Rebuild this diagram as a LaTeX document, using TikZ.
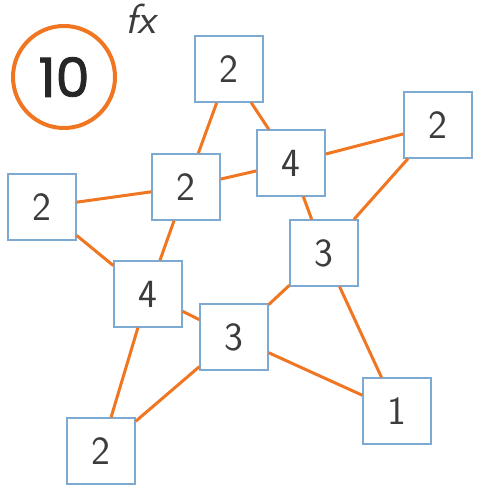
\documentclass[tikz,border=0pt]{standalone}
\usepackage{fontspec}
\usepackage{xcolor}
\newfontfamily\circfont[FakeBold=1.6]{Poppins}
\usetikzlibrary{positioning}

\definecolor{starorange}{RGB}{240,118,34}
\definecolor{boxblue}{RGB}{125,170,210}
\definecolor{penink}{RGB}{60,60,60}

\tikzset{
    numbox/.style={
        draw=boxblue,
        line width=1.3pt,
        fill=white,
        rectangle,
        minimum width=68pt,
        minimum height=66pt,
        inner sep=0pt,
        text=penink,
        font=\sffamily\fontsize{40}{40}\selectfont
    },
    starline/.style={draw=starorange, line width=3pt}
}

\begin{document}
\begin{tikzpicture}[x=1pt, y=-1pt]

\useasboundingbox (0,0) rectangle (478,486);

% Number circle and note
\node[
    circle,
    draw=starorange,
    line width=4pt,
    minimum size=102pt,
    inner sep=0pt,
    text=black!85,
    font=\circfont\fontsize{54}{54}\selectfont
] (task) at (64,77) {10};

\node[
    text=penink,
    font=\sffamily\itshape\fontsize{42}{42}\selectfont
] (note) at (141,19) {fx};

% Outer points
\node[numbox] (top)  at (229,69)  {2};
\node[numbox] (rgt)  at (438,125) {2};
\node[numbox] (lft)  at (42,207)  {2};
\node[numbox] (botl) at (101,451) {2};
\node[numbox] (botr) at (397,411) {1};

% Inner points
\node[numbox] (ia) at (186,187) {2};
\node[numbox] (ib) at (291,163) {4};
\node[numbox] (ic) at (324,253) {3};
\node[numbox] (id) at (148,294) {4};
\node[numbox] (ie) at (234,337) {3};

% Star lines
\draw[starline] (top) -- (ia);
\draw[starline] (ia) -- (id);
\draw[starline] (id) -- (botl);

\draw[starline] (top) -- (ib);
\draw[starline] (ib) -- (ic);
\draw[starline] (ic) -- (botr);

\draw[starline] (lft) -- (ia);
\draw[starline] (ia) -- (ib);
\draw[starline] (ib) -- (rgt);

\draw[starline] (lft) -- (id);
\draw[starline] (id) -- (ie);
\draw[starline] (ie) -- (botr);

\draw[starline] (botl) -- (ie);
\draw[starline] (ie) -- (ic);
\draw[starline] (ic) -- (rgt);

\end{tikzpicture}
\end{document}
